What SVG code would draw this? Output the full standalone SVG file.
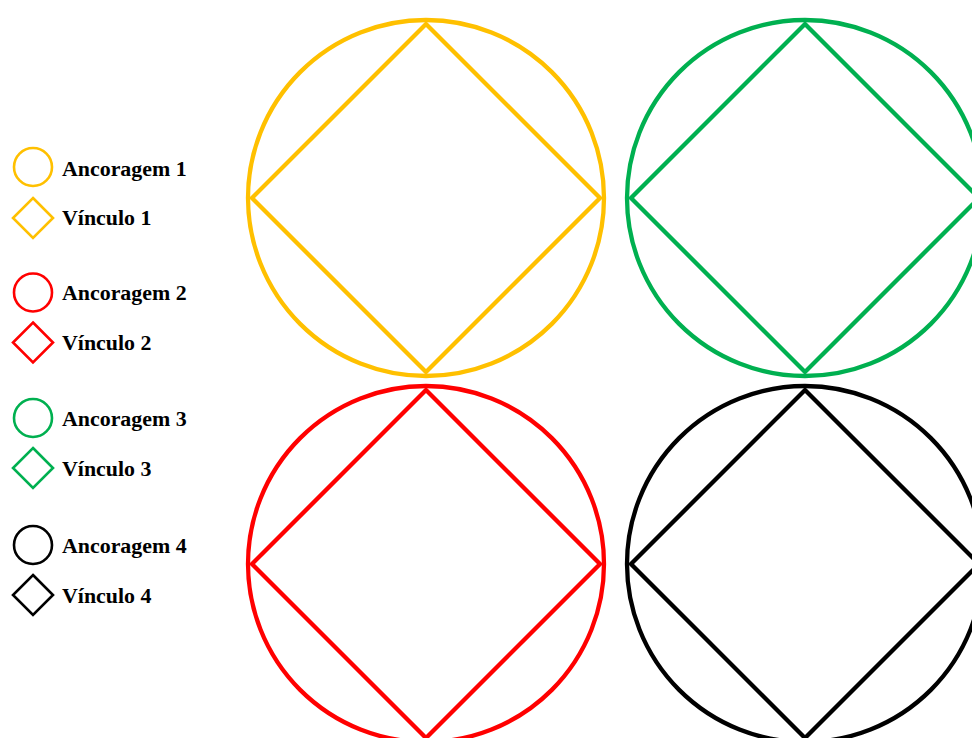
<svg xmlns="http://www.w3.org/2000/svg" width="972" height="738" viewBox="0 0 972 738">
<style>
.big{fill:none;stroke-width:4.3}
.leg{fill:none;stroke-width:2.6}
.lbl{font-family:"Liberation Serif","Times New Roman",serif;font-weight:bold;font-size:21.9px;fill:#000}
.y{stroke:#FFC000}.r{stroke:#FF0000}.g{stroke:#00B050}.k{stroke:#000}
</style>
<rect width="972" height="738" fill="#fff"/>
<g id="legend">
<g id="leg1"><circle class="leg y" cx="33" cy="167" r="19"/><path class="leg y" d="M33 198 L53 218 L33 238 L13 218 Z"/><text class="lbl" x="62" y="176">Ancoragem 1</text><text class="lbl" x="62" y="225">Vínculo 1</text></g>
<g id="leg2"><circle class="leg r" cx="33" cy="292.5" r="19"/><path class="leg r" d="M33 322.5 L53 342.5 L33 362.5 L13 342.5 Z"/><text class="lbl" x="62" y="300">Ancoragem 2</text><text class="lbl" x="62" y="350">Vínculo 2</text></g>
<g id="leg3"><circle class="leg g" cx="33" cy="418" r="19"/><path class="leg g" d="M33 448 L53 468 L33 488 L13 468 Z"/><text class="lbl" x="62" y="426">Ancoragem 3</text><text class="lbl" x="62" y="476">Vínculo 3</text></g>
<g id="leg4"><circle class="leg k" cx="33" cy="545" r="19"/><path class="leg k" d="M33 575 L53 595 L33 615 L13 595 Z"/><text class="lbl" x="62" y="553">Ancoragem 4</text><text class="lbl" x="62" y="603">Vínculo 4</text></g>
</g>
<g id="anchor1"><circle class="big y" cx="426" cy="198" r="178"/><path class="big y" d="M426 24 L600 198 L426 372 L252 198 Z"/></g>
<g id="anchor3"><circle class="big g" cx="805" cy="198" r="178"/><path class="big g" d="M805 24 L979 198 L805 372 L631 198 Z"/></g>
<g id="anchor2"><circle class="big r" cx="426" cy="564" r="178"/><path class="big r" d="M426 390 L600 564 L426 738 L252 564 Z"/></g>
<g id="anchor4"><circle class="big k" cx="805" cy="564" r="178"/><path class="big k" d="M805 390 L979 564 L805 738 L631 564 Z"/></g>
<g id="connectors"></g>
</svg>
